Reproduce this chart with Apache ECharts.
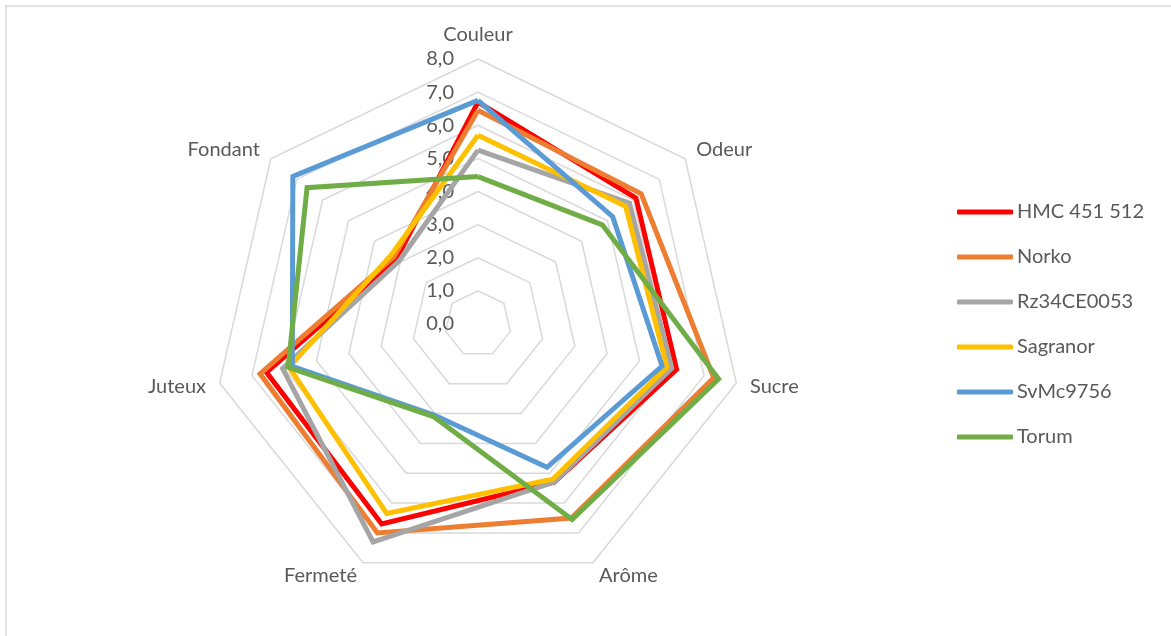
<!DOCTYPE html>
<html>
<head>
<meta charset="utf-8">
<script src="https://cdn.jsdelivr.net/npm/echarts@6/dist/echarts.min.js"></script>
<style>
  html, body { margin: 0; padding: 0; background: #fff; }
  #chart { width: 1171px; height: 636px; }
</style>
</head>
<body>
<div id="chart"></div>
<script>
// axes, clockwise from the top
const categories = ['Couleur', 'Odeur', 'Sucre', 'Arôme', 'Fermeté', 'Juteux', 'Fondant']
const tickLabels = ['0,0', '1,0', '2,0', '3,0', '4,0', '5,0', '6,0', '7,0', '8,0']
const axisMax = 8

const seriesNames = ['HMC 451 512', 'Norko', 'Rz34CE0053', 'Sagranor', 'SvMc9756', 'Torum']
const colors = ['#FF0000', '#ED7D31', '#A5A5A5', '#FFC000', '#5B9BD5', '#70AD47']

const hmc = [6.7, 6.1, 6.15, 5.3, 6.7, 6.55, 3.15]
const norko = [6.45, 6.3, 7.3, 6.5, 7.0, 6.75, 3.25]
const rz34 = [5.25, 5.85, 6.0, 5.3, 7.3, 6.05, 3.05]
const sagranor = [5.7, 5.7, 5.85, 5.2, 6.35, 5.85, 3.35]
const svmc = [6.75, 5.2, 5.7, 4.8, 3.05, 5.75, 7.15]
const torum = [4.45, 4.8, 7.45, 6.55, 3.1, 5.88, 6.6]

const values = [hmc, norko, rz34, sagranor, svmc, torum]

// echarts lays indicators out counter-clockwise, so keep the first and reverse the rest
function clockwise(arr) {
  return [arr[0]].concat(arr.slice(1).reverse())
}

const textColor = '#595959'
const fontFamily = 'Lato, "Open Sans", sans-serif'
const fontSize = 20

const chart = echarts.init(document.getElementById('chart'))

chart.setOption({
  animation: false,
  graphic: [
    {
      type: 'rect',
      shape: { x: 6, y: 6, width: 1400, height: 900 },
      style: { fill: 'none', stroke: '#d9d9d9', lineWidth: 1.5 },
      silent: true
    }
  ],
  legend: {
    orient: 'vertical',
    left: 957,
    top: 202,
    padding: 0,
    itemWidth: 56,
    itemHeight: 5,
    itemGap: 25,
    icon: 'roundRect',
    textStyle: {
      color: textColor,
      fontSize: fontSize,
      lineHeight: 20,
      fontFamily: fontFamily,
      padding: [0, 0, 0, -1]
    },
    data: seriesNames
  },
  radar: {
    center: [478, 324],
    radius: 265,
    startAngle: 90,
    shape: 'polygon',
    splitNumber: 8,
    nameGap: 14,
    axisName: {
      color: textColor,
      fontSize: fontSize,
      fontFamily: fontFamily
    },
    axisLine: { show: false },
    axisTick: { show: false },
    axisLabel: { show: false },
    splitArea: { show: false },
    splitLine: {
      lineStyle: { color: '#d9d9d9', width: 1.5 }
    },
    indicator: clockwise(categories).map((name, i) => {
      const ind = { name: name, min: 0, max: axisMax }
      if (i === 0) {
        ind.axisLabel = {
          show: true,
          color: textColor,
          fontSize: fontSize,
          fontFamily: fontFamily,
          margin: 24,
          formatter: (v, idx) => tickLabels[idx]
        }
      }
      return ind
    })
  },
  series: [
    {
      type: 'radar',
      symbol: 'none',
      data: seriesNames.map((name, i) => ({
        name: name,
        value: clockwise(values[i]),
        itemStyle: { color: colors[i] },
        lineStyle: { color: colors[i], width: 5, join: 'miter' }
      }))
    }
  ]
})
</script>
</body>
</html>
